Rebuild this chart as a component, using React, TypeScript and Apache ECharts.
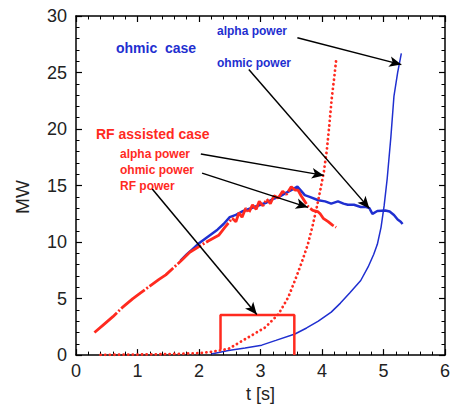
import React, { useEffect, useRef } from "react";
import * as echarts from "echarts";

const BLUE = "#1f2fd0";
const RED = "#ff2a1f";
const FONT = '"Liberation Sans", Arial, sans-serif';

// Ohmic case
const ohmicCaseOhmicPower: number[][] = [
  [1.7, 8.35], [1.8, 8.9], [1.9, 9.4], [2.0, 9.9], [2.1, 10.3], [2.2, 10.7], [2.3, 11.1],
  [2.4, 11.6], [2.5, 12.2], [2.6, 12.4], [2.7, 12.7], [2.8, 12.9], [2.9, 13.1], [3.0, 13.3],
  [3.1, 13.5], [3.2, 13.8], [3.3, 14.0], [3.4, 14.3], [3.5, 14.6], [3.6, 14.9], [3.65, 14.6],
  [3.72, 14.15], [3.8, 14.0], [3.94, 13.7], [4.05, 13.6], [4.15, 13.4], [4.26, 13.6], [4.35, 13.4],
  [4.42, 13.3], [4.52, 13.3], [4.63, 13.1], [4.72, 13.1], [4.77, 13.0], [4.82, 12.5], [4.9, 12.75],
  [5.03, 12.8], [5.1, 12.7], [5.17, 12.4], [5.23, 12.0], [5.28, 11.8], [5.31, 11.6],
];
const ohmicCaseAlphaPower: number[][] = [
  [2.2, 0.1], [2.48, 0.4], [2.75, 0.62], [3.02, 0.88], [3.25, 1.3], [3.56, 1.87], [3.75, 2.4],
  [3.94, 3.0], [4.15, 3.8], [4.3, 4.6], [4.45, 5.5], [4.63, 6.6], [4.75, 7.8], [4.84, 8.9],
  [4.9, 9.8], [4.96, 11.3], [5.01, 13.2], [5.06, 15.6], [5.12, 19.3], [5.17, 22.9], [5.23, 25.0],
  [5.29, 26.7],
];

// RF assisted case
const rfCaseOhmicPower: number[][] = [
  [0.3, 2.0], [0.45, 2.7], [0.6, 3.4], [0.75, 4.2], [0.925, 5.0], [1.05, 5.5], [1.2, 6.1],
  [1.35, 6.7], [1.46, 7.1], [1.6, 7.8], [1.73, 8.45], [1.85, 9.1], [2.0, 9.6], [2.15, 10.1],
  [2.32, 10.6], [2.42, 11.3], [2.54, 12.1], [2.6, 11.8], [2.65, 12.6], [2.7, 12.2], [2.76, 13.0],
  [2.81, 12.6], [2.87, 13.3], [2.93, 12.9], [2.98, 13.6], [3.04, 13.2], [3.1, 13.8], [3.16, 13.4],
  [3.22, 14.1], [3.29, 13.9], [3.36, 14.5], [3.42, 14.2], [3.5, 14.9], [3.56, 14.6], [3.61, 14.6],
  [3.66, 14.1], [3.72, 13.6], [3.78, 13.1], [3.85, 12.8], [3.93, 12.7], [3.97, 12.5], [4.02, 12.1],
  [4.1, 11.8], [4.17, 11.5], [4.23, 11.3],
];
const rfCaseAlphaPower: number[][] = [
  [0.4, 0.02], [0.8, 0.04], [1.2, 0.06], [1.6, 0.1], [2.0, 0.18], [2.16, 0.26], [2.48, 0.55],
  [2.81, 1.6], [3.08, 2.46], [3.29, 3.6], [3.45, 5.1], [3.56, 6.6], [3.67, 8.2], [3.77, 9.8],
  [3.85, 11.5], [3.92, 13.2], [3.98, 14.8], [4.03, 16.2], [4.08, 18.2], [4.12, 20.4], [4.16, 22.8],
  [4.2, 24.6], [4.23, 26.1],
];
const rfCaseRfPower: number[][] = [
  [2.35, 0.5], [2.35, 3.55], [3.55, 3.55], [3.55, 0],
];

// Annotation arrows (data coordinates): [from, to]
const arrows: number[][][] = [
  [[3.6, 28.07], [5.29, 25.7]],
  [[2.81, 25.26], [4.77, 12.98]],
  [[2.03, 17.8], [4.03, 15.9]],
  [[2.05, 16.1], [3.77, 13.07]],
  [[1.24, 14.7], [2.94, 3.6]],
];

const xMin = 0, xMax = 6, xStep = 1;
const yMin = 0, yMax = 30, yStep = 5;

export default function App() {
  const ref = useRef<HTMLDivElement>(null);
  useEffect(() => {
    if (!ref.current) return;
    const chart = echarts.init(ref.current, undefined, { renderer: "svg" });
    const tickCommon = {
      axisLine: { show: true, onZero: false, lineStyle: { color: "#000", width: 1.5 } },
      axisTick: { show: true, inside: true, length: 6, lineStyle: { color: "#000", width: 1.2 } },
      minorTick: { show: true, splitNumber: 5, length: 3.5, lineStyle: { color: "#000", width: 1 } },
      splitLine: { show: false },
    };
    const labelStyle = { color: "#222", fontSize: 18, fontFamily: FONT };
    chart.setOption({
      animation: false,
      backgroundColor: "#fff",
      grid: { left: 76, right: 5, top: 16, bottom: 50 },
      xAxis: [
        {
          type: "value", min: xMin, max: xMax, interval: xStep, position: "bottom",
          ...tickCommon,
          axisLabel: { ...labelStyle, margin: 7 },
          name: "t [s]", nameLocation: "middle", nameGap: 28,
          nameTextStyle: { ...labelStyle },
        },
        {
          type: "value", min: xMin, max: xMax, interval: xStep, position: "top",
          ...tickCommon, axisLabel: { show: false },
        },
      ],
      yAxis: [
        {
          type: "value", min: yMin, max: yMax, interval: yStep, position: "left",
          ...tickCommon,
          axisLabel: { ...labelStyle, margin: 9 },
        },
        {
          type: "value", min: yMin, max: yMax, interval: yStep, position: "right",
          ...tickCommon, axisLabel: { show: false },
        },
      ],
      series: [
        {
          type: "line", data: ohmicCaseAlphaPower, showSymbol: false, symbol: "none",
          lineStyle: { color: BLUE, width: 1.5 },
        },
        {
          type: "line", data: ohmicCaseOhmicPower, showSymbol: false, symbol: "none",
          lineStyle: { color: BLUE, width: 2.5 },
        },
        {
          type: "line", data: rfCaseAlphaPower, showSymbol: false, symbol: "none",
          lineStyle: { color: RED, width: 2.8, type: [0.1, 4.5], cap: "round" },
        },
        {
          type: "line", data: rfCaseRfPower, showSymbol: false, symbol: "none",
          lineStyle: { color: RED, width: 2.5 },
        },
        {
          type: "line", data: rfCaseOhmicPower, showSymbol: false, symbol: "none",
          lineStyle: { color: RED, width: 2.8, type: [30, 2, 2, 2] },
          markLine: {
            silent: true,
            symbol: ["none", "arrow"],
            symbolSize: [8, 12],
            label: { show: false },
            lineStyle: { color: "#000", width: 1.5, type: "solid" },
            data: arrows.map((a) => [{ coord: a[0] }, { coord: a[1] }]),
          },
        },
      ],
      graphic: [
        { type: "text", x: 116, y: 48, style: { text: "ohmic  case", fill: BLUE, font: `bold 14px ${FONT}`, textVerticalAlign: "middle" } },
        { type: "text", x: 217, y: 31, style: { text: "alpha power", fill: BLUE, font: `bold 12px ${FONT}`, textVerticalAlign: "middle" } },
        { type: "text", x: 217, y: 63, style: { text: "ohmic power", fill: BLUE, font: `bold 12px ${FONT}`, textVerticalAlign: "middle" } },
        { type: "text", x: 96, y: 134, style: { text: "RF assisted case", fill: RED, font: `bold 14px ${FONT}`, textVerticalAlign: "middle" } },
        { type: "text", x: 120, y: 154, style: { text: "alpha power", fill: RED, font: `bold 12px ${FONT}`, textVerticalAlign: "middle" } },
        { type: "text", x: 120, y: 170, style: { text: "ohmic power", fill: RED, font: `bold 12px ${FONT}`, textVerticalAlign: "middle" } },
        { type: "text", x: 120, y: 186, style: { text: "RF power", fill: RED, font: `bold 12px ${FONT}`, textVerticalAlign: "middle" } },
        { type: "text", x: 22, y: 197, rotation: Math.PI / 2, style: { text: "MW", fill: "#222", font: `19px ${FONT}`, textAlign: "center", textVerticalAlign: "middle" } },
      ],
    });
    return () => chart.dispose();
  }, []);
  return <div ref={ref} style={{ position: "absolute", left: 0, top: 0, width: 453, height: 408 }} />;
}
